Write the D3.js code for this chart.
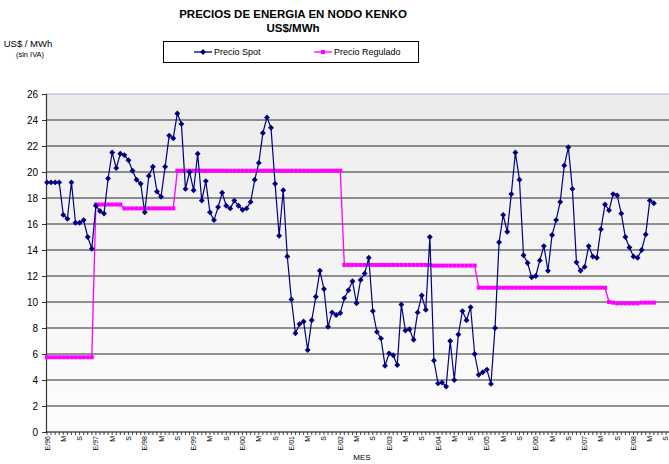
<!DOCTYPE html>
<html><head><meta charset="utf-8">
<script src="https://cdn.jsdelivr.net/npm/d3@7"></script>
<style>body{margin:0;background:#fff;} svg{display:block;font-family:"Liberation Sans",Arial,sans-serif;}</style>
</head><body><svg id="c" width="669" height="464"></svg>
<script>
const spot = [
 19.2,19.2,19.2,19.2,16.7,16.4,19.2,16.1,16.1,16.3,15.0,14.1,
 17.4,17.0,16.8,19.5,21.5,20.3,21.4,21.3,20.9,20.1,19.4,19.1,
 16.9,19.7,20.4,18.5,18.1,20.4,22.8,22.6,24.5,23.7,18.7,20.0,
 18.6,21.4,17.8,19.3,16.9,16.3,17.3,18.4,17.4,17.2,17.8,17.4,
 17.1,17.2,17.7,19.4,20.7,23.0,24.2,23.4,19.1,15.1,18.6,13.5,
 10.2,7.6,8.3,8.5,6.3,8.6,10.4,12.4,11.0,8.1,9.2,9.0,
 9.15,10.3,10.9,11.6,9.9,11.7,12.2,13.4,9.3,7.7,7.2,5.1,
 6.05,5.9,5.15,9.8,7.8,7.9,7.1,9.2,10.5,9.4,15.0,5.5,
 3.74,3.8,3.5,7.0,4.0,7.5,9.3,8.6,9.6,6.0,4.4,4.6,
 4.8,3.7,8.0,14.6,16.7,15.4,18.3,21.5,19.4,13.6,13.0,11.9,
 12.0,13.2,14.3,12.4,15.15,16.3,17.7,20.5,21.9,18.7,13.05,12.4,
 12.7,14.3,13.5,13.4,15.6,17.5,17.05,18.3,18.2,16.8,15.0,14.2,
 13.5,13.4,14.0,15.2,17.8,17.6];
const regulado = [
 5.75,5.75,5.75,5.75,5.75,5.75,5.75,5.75,5.75,5.75,5.75,5.75,
 17.5,17.5,17.5,17.5,17.5,17.5,17.5,17.2,17.2,17.2,17.2,17.2,
 17.2,17.2,17.2,17.2,17.2,17.2,17.2,17.2,20.1,20.1,20.1,20.1,
 20.1,20.1,20.1,20.1,20.1,20.1,20.1,20.1,20.1,20.1,20.1,20.1,
 20.1,20.1,20.1,20.1,20.1,20.1,20.1,20.1,20.1,20.1,20.1,20.1,
 20.1,20.1,20.1,20.1,20.1,20.1,20.1,20.1,20.1,20.1,20.1,20.1,
 20.1,12.85,12.85,12.85,12.85,12.85,12.85,12.85,12.85,12.85,12.85,12.85,
 12.85,12.85,12.85,12.85,12.85,12.85,12.85,12.85,12.85,12.85,12.85,12.8,
 12.8,12.8,12.8,12.8,12.8,12.8,12.8,12.8,12.8,12.8,11.1,11.1,
 11.1,11.1,11.1,11.1,11.1,11.1,11.1,11.1,11.1,11.1,11.1,11.1,
 11.1,11.1,11.1,11.1,11.1,11.1,11.1,11.1,11.1,11.1,11.1,11.1,
 11.1,11.1,11.1,11.1,11.1,11.1,10.0,9.95,9.9,9.9,9.9,9.9,
 9.9,9.9,9.95,9.95,9.95,9.95];
const xTickLabels = [
 "E/96","M","S","E/97","M","S","E/98","M","S","E/99","M","S","E/00","M","S",
 "E/01","M","S","E/02","M","S","E/03","M","S","E/04","M","S","E/05","M","S",
 "E/06","M","S","E/07","M","S","E/08","M","S"];
const yTicks = [0,2,4,6,8,10,12,14,16,18,20,22,24,26];
const nMonths = 156;

const svg = d3.select("#c");
const pL = 46, pR = 669, pT = 94, pB = 432;
const x = d3.scaleLinear().domain([0, 144]).range([47, 633.5]);
const y = d3.scaleLinear().domain([0, 26]).range([pB, pT]);

const defs = svg.append("defs");
const g = defs.append("linearGradient").attr("id","bg").attr("x1",0).attr("y1",0).attr("x2",0).attr("y2",1);
g.append("stop").attr("offset","0%").attr("stop-color","#ececec");
g.append("stop").attr("offset","100%").attr("stop-color","#fdfdfd");
defs.append("clipPath").attr("id","clip").append("rect")
  .attr("x",pL-4).attr("y",pT-6).attr("width",pR-pL+4).attr("height",pB-pT+30);

svg.append("text").attr("x",293).attr("y",18).attr("text-anchor","middle")
  .attr("font-size",11.5).attr("font-weight","bold").text("PRECIOS DE ENERGIA EN NODO KENKO");
svg.append("text").attr("x",293).attr("y",32).attr("text-anchor","middle")
  .attr("font-size",11.5).attr("font-weight","bold").text("US$/MWh");

svg.append("text").attr("x",28).attr("y",47).attr("text-anchor","middle").attr("font-size",9.5).text("US$ / MWh");
svg.append("text").attr("x",30).attr("y",57).attr("text-anchor","middle").attr("font-size",7.5).text("(sin IVA)");

svg.append("rect").attr("x",pL).attr("y",pT).attr("width",pR-pL).attr("height",pB-pT).attr("fill","url(#bg)");

svg.append("g").selectAll("line").data(yTicks.filter(d=>d>0 && d<26)).join("line")
  .attr("x1",pL).attr("x2",pR).attr("y1",d=>y(d)).attr("y2",d=>y(d))
  .attr("stroke","#2a2a2a").attr("stroke-width",1);
svg.append("line").attr("x1",pL).attr("x2",pR).attr("y1",y(26)).attr("y2",y(26))
  .attr("stroke","#9fb4d2").attr("stroke-width",1.2);

const ya = svg.append("g").attr("transform",`translate(${pL},0)`)
  .call(d3.axisLeft(y).tickValues(yTicks).tickSize(4).tickPadding(4));
ya.select(".domain").attr("stroke","#333").attr("stroke-width",1.2);
ya.selectAll(".tick line").attr("stroke","#333");
ya.selectAll("text").attr("font-size",10).attr("font-family","Liberation Sans, Arial, sans-serif").attr("fill","#000");

const months = d3.range(nMonths);
const xa = svg.append("g").attr("transform",`translate(0,${pB})`);
xa.append("line").attr("x1",pL).attr("x2",pR).attr("y1",0).attr("y2",0).attr("stroke","#000").attr("stroke-width",1.2);
xa.selectAll("line.m").data(months.filter(d=>x(d)<=pR)).join("line").attr("class","m")
  .attr("x1",d=>x(d)).attr("x2",d=>x(d)).attr("y1",0).attr("y2",3)
  .attr("stroke","#333").attr("stroke-width",0.9);
xa.selectAll("text").data(xTickLabels).join("text")
  .attr("transform",(d,i)=>`translate(${Math.min(x(i*4)+2.5, 667.5)},4) rotate(-90)`)
  .attr("text-anchor","end").attr("font-size",7).text(d=>d);

svg.append("text").attr("x",362).attr("y",460).attr("text-anchor","middle").attr("font-size",8).text("MES");

const plot = svg.append("g").attr("clip-path","url(#clip)");
const line = d3.line().x((d,i)=>x(i)).y(d=>y(d));
plot.append("path").datum(regulado).attr("d",line).attr("fill","none").attr("stroke","#ff00ff").attr("stroke-width",1.3);
plot.selectAll("rect.r").data(regulado).join("rect").attr("class","r")
  .attr("x",(d,i)=>x(i)-2).attr("y",d=>y(d)-2).attr("width",4).attr("height",4).attr("fill","#ff00ff");
plot.append("path").datum(spot).attr("d",line).attr("fill","none").attr("stroke","#000080").attr("stroke-width",1.2);
const diamond = d3.symbol().type(d3.symbolDiamond2).size(22);
plot.selectAll("path.s").data(spot).join("path").attr("class","s")
  .attr("transform",(d,i)=>`translate(${x(i)},${y(d)})`).attr("d",diamond).attr("fill","#000080");

const lg = svg.append("g");
lg.append("rect").attr("x",163.5).attr("y",41.5).attr("width",255).attr("height",21).attr("fill","#fff").attr("stroke","#000").attr("stroke-width",1);
lg.append("line").attr("x1",194).attr("x2",212).attr("y1",52).attr("y2",52).attr("stroke","#000080").attr("stroke-width",1.3);
lg.append("path").attr("transform","translate(203,52)").attr("d",diamond).attr("fill","#000080");
lg.append("text").attr("x",214).attr("y",55).attr("font-size",9).text("Precio Spot");
lg.append("line").attr("x1",314).attr("x2",332).attr("y1",52).attr("y2",52).attr("stroke","#ff00ff").attr("stroke-width",1.3);
lg.append("rect").attr("x",321).attr("y",50).attr("width",4).attr("height",4).attr("fill","#ff00ff");
lg.append("text").attr("x",334).attr("y",55).attr("font-size",9).text("Precio Regulado");
</script></body></html>
